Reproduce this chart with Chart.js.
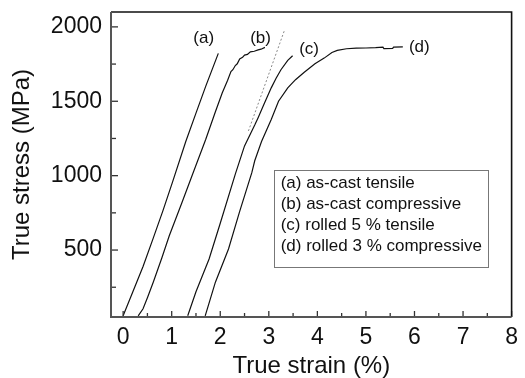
<!DOCTYPE html>
<html>
<head>
<meta charset="utf-8">
<script src="https://cdn.jsdelivr.net/npm/chart.js@4/dist/chart.umd.min.js"></script>
<style>
html,body{margin:0;padding:0;background:#fff;}
#wrap{width:525px;height:378px;position:relative;}
</style>
</head>
<body>
<div id="wrap"><canvas id="c" width="525" height="378"></canvas></div>
<script>
// ---- data ----
const seriesLabels = ['(a) as-cast tensile', '(b) as-cast compressive', '(c) rolled 5 % tensile', '(d) rolled 3 % compressive'];
const curveA = [[0,58],[0.2,220],[0.41,390],[0.62,580],[0.82,765],[1.02,960],[1.29,1230],[1.5,1420],[1.7,1600],[1.96,1822]];
const curveB = [[0.31,58],[0.41,105],[0.5,180],[0.62,284],[0.8,450],[0.95,596],[1.2,810],[1.43,1010],[1.7,1243],[1.9,1430],[2.04,1556],[2.15,1640],[2.22,1700],[2.26,1712],[2.31,1740],[2.35,1752],[2.4,1785],[2.46,1795],[2.5,1810],[2.56,1815],[2.62,1832],[2.7,1836],[2.78,1845],[2.84,1850],[2.92,1862]];
const curveC = [[1.33,58],[1.5,220],[1.77,440],[2.0,680],[2.31,1010],[2.5,1200],[2.71,1340],[2.78,1390],[2.9,1480],[3.05,1590],[3.15,1655],[3.25,1712],[3.39,1775],[3.49,1806]];
const curveD = [[1.69,58],[1.9,284],[2.17,507],[2.4,760],[2.65,1020],[2.71,1100],[2.85,1230],[3.05,1377],[3.2,1500],[3.39,1590],[3.55,1645],[3.73,1695],[3.95,1752],[4.14,1790],[4.3,1828],[4.41,1842],[4.6,1853],[4.8,1857],[5.0,1858],[5.2,1860],[5.35,1864],[5.37,1854],[5.55,1855],[5.57,1864],[5.76,1866]];
const tangentLine = [[2.58,1300],[3.32,1975]];
const curveTags = ['(a)', '(b)', '(c)', '(d)'];
const tagX = [1.66, 2.83, 3.83, 6.10];
const tagY = [1924, 1924, 1851, 1866];
const xMajorTicks = [0,1,2,3,4,5,6,7,8];
const xMinorTicks = [0.5,1.5,2.5,3.5,4.5,5.5,6.5,7.5];
const yMajorTicks = [500,1000,1500,2000];
const yMinorTicks = [250,750,1250,1750];

const FONT = "'Liberation Sans', Arial, Helvetica, sans-serif";
const toPts = arr => arr.map(p => ({x: p[0], y: p[1]}));

const overlay = {
  id: 'overlay',
  afterDraw(chart) {
    const ctx = chart.ctx;
    const a = chart.chartArea;
    const xs = chart.scales.x, ys = chart.scales.y;
    ctx.save();
    // inward ticks
    ctx.strokeStyle = '#333';
    ctx.lineWidth = 1.3;
    const tick = (x1,y1,x2,y2) => {ctx.beginPath();ctx.moveTo(x1,y1);ctx.lineTo(x2,y2);ctx.stroke();};
    xMajorTicks.forEach(v => {const px = xs.getPixelForValue(v); tick(px, a.bottom, px, a.bottom-6);});
    xMinorTicks.forEach(v => {const px = xs.getPixelForValue(v); tick(px, a.bottom, px, a.bottom-4);});
    yMajorTicks.forEach(v => {const py = ys.getPixelForValue(v); tick(a.left, py, a.left+7, py);});
    yMinorTicks.forEach(v => {const py = ys.getPixelForValue(v); tick(a.left, py, a.left+5, py);});
    // frame
    ctx.lineWidth = 1.6;
    ctx.strokeStyle = '#111';
    ctx.beginPath();
    ctx.moveTo(a.left, a.top); ctx.lineTo(a.right, a.top); ctx.lineTo(a.right, a.bottom);
    ctx.stroke();
    ctx.strokeStyle = '#555';
    ctx.lineWidth = 2;
    ctx.beginPath();
    ctx.moveTo(a.left, a.top); ctx.lineTo(a.left, a.bottom); ctx.lineTo(a.right, a.bottom);
    ctx.stroke();
    // curve tags
    ctx.fillStyle = '#111';
    ctx.font = '17px ' + FONT;
    ctx.textAlign = 'center';
    ctx.textBaseline = 'middle';
    curveTags.forEach((t,i) => ctx.fillText(t, xs.getPixelForValue(tagX[i]), ys.getPixelForValue(tagY[i])));
    // legend box
    const bx = xs.getPixelForValue(3.1), by = ys.getPixelForValue(1040);
    const bw = 214, bh = 97;
    ctx.strokeStyle = '#777';
    ctx.lineWidth = 1;
    ctx.strokeRect(Math.round(bx)+0.5, Math.round(by)+0.5, bw, bh);
    ctx.textAlign = 'left';
    seriesLabels.forEach((t,i) => ctx.fillText(t, bx + 7, by + 14 + i*20.8));
    ctx.restore();
  }
};

new Chart(document.getElementById('c'), {
  type: 'scatter',
  data: {
    datasets: [
      {label: seriesLabels[0], data: toPts(curveA)},
      {label: seriesLabels[1], data: toPts(curveB)},
      {label: seriesLabels[2], data: toPts(curveC)},
      {label: seriesLabels[3], data: toPts(curveD)},
      {label: 'tangent', data: toPts(tangentLine), borderColor: '#888', borderDash: [2,2], borderWidth: 1}
    ].map(d => Object.assign({showLine: true, pointRadius: 0, borderColor: '#111', borderWidth: 1.2, tension: 0, fill: false}, d))
  },
  options: {
    responsive: false,
    animation: false,
    devicePixelRatio: 1,
    layout: {padding: {top: 12, right: 8, left: 0, bottom: 0}},
    plugins: {legend: {display: false}, tooltip: {enabled: false}},
    scales: {
      x: {
        type: 'linear', min: -0.25, max: 8,
        afterBuildTicks: s => { s.ticks = xMajorTicks.map(v => ({value: v})); },
        afterFit: s => { s.height = 61; },
        grid: {display: false, drawTicks: false},
        border: {display: false},
        ticks: {color: '#111', font: {family: FONT, size: 23}, padding: 7, maxRotation: 0, callback: v => String(v)},
        title: {display: true, text: 'True strain (%)', color: '#111', font: {family: FONT, size: 24, lineHeight: 1}, padding: {top: 0, bottom: 0}}
      },
      y: {
        type: 'linear', min: 50, max: 2100,
        afterBuildTicks: s => { s.ticks = yMajorTicks.map(v => ({value: v})); },
        afterFit: s => { s.width = 111; s.paddingTop = 0; s.paddingBottom = 0; },
        grid: {display: false, drawTicks: false},
        border: {display: false},
        ticks: {color: '#111', font: {family: FONT, size: 23, lineHeight: 0.6}, padding: 9, callback: v => String(v)},
        title: {display: true, text: 'True stress (MPa)', color: '#111', font: {family: FONT, size: 24, lineHeight: 1}, padding: {top: 10, bottom: 0}}
      }
    }
  },
  plugins: [overlay]
});
</script>
</body>
</html>
